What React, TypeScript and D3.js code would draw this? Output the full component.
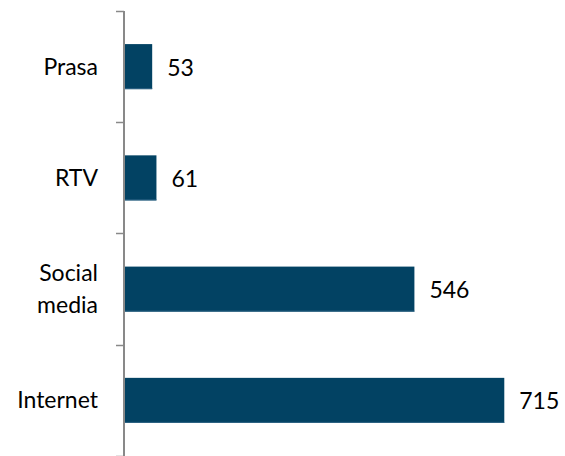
import React from "react";
import { scaleBand, scaleLinear } from "d3";

// values
const categories = ["Prasa", "RTV", "Social media", "Internet"];
const values = [53, 61, 546, 715];
const categoryLines = [["Prasa"], ["RTV"], ["Social", "media"], ["Internet"]];

const width = 565;
const height = 456;
const axisX = 124;
const barColor = "#024263";
const axisColor = "#898989";
const font = "Lato, 'Open Sans', sans-serif";
const fontSize = 23;

export default function App() {
  const y = scaleBand<string>()
    .domain(categories)
    .range([11, 456])
    .paddingInner(0.595)
    .paddingOuter(0.2975);

  const x = scaleLinear().domain([0, 800]).range([axisX, 549.5]);

  const gap = (y.step() - y.bandwidth()) / 2;
  const ticks = categories
    .map((c) => (y(c) ?? 0) - gap)
    .concat([y.range()[1]]);

  return (
    <svg
      width={width}
      height={height}
      style={{ position: "absolute", left: 0, top: 0, background: "#fff" }}
      fontFamily={font}
      fontSize={fontSize}
    >
      {categories.map((c, i) => {
        const top = y(c) ?? 0;
        const mid = top + y.bandwidth() / 2;
        const lines = categoryLines[i];
        const lineGap = 32;
        const first = mid + 8 - ((lines.length - 1) * lineGap) / 2;
        return (
          <g key={c}>
            <rect
              x={x(0)}
              y={top}
              width={x(values[i]) - x(0)}
              height={y.bandwidth()}
              fill={barColor}
            />
            <line
              x1={x(0)}
              x2={x(values[i])}
              y1={top + y.bandwidth() - 0.5}
              y2={top + y.bandwidth() - 0.5}
              stroke="#2f6485"
              strokeWidth={1}
            />
            <text x={x(values[i]) + 15} y={mid + 9} fill="#000">
              {values[i]}
            </text>
            <text textAnchor="end" fill="#000">
              {lines.map((l, j) => (
                <tspan key={l} x={98} y={first + j * lineGap}>
                  {l}
                </tspan>
              ))}
            </text>
          </g>
        );
      })}
      <line
        x1={axisX}
        x2={axisX}
        y1={ticks[0]}
        y2={height}
        stroke={axisColor}
        strokeWidth={2}
      />
      {ticks.map((t, i) => (
        <line
          key={i}
          x1={axisX - 8}
          x2={axisX}
          y1={Math.round(t) + 0.5}
          y2={Math.round(t) + 0.5}
          stroke={axisColor}
          strokeWidth={1.5}
        />
      ))}
    </svg>
  );
}
